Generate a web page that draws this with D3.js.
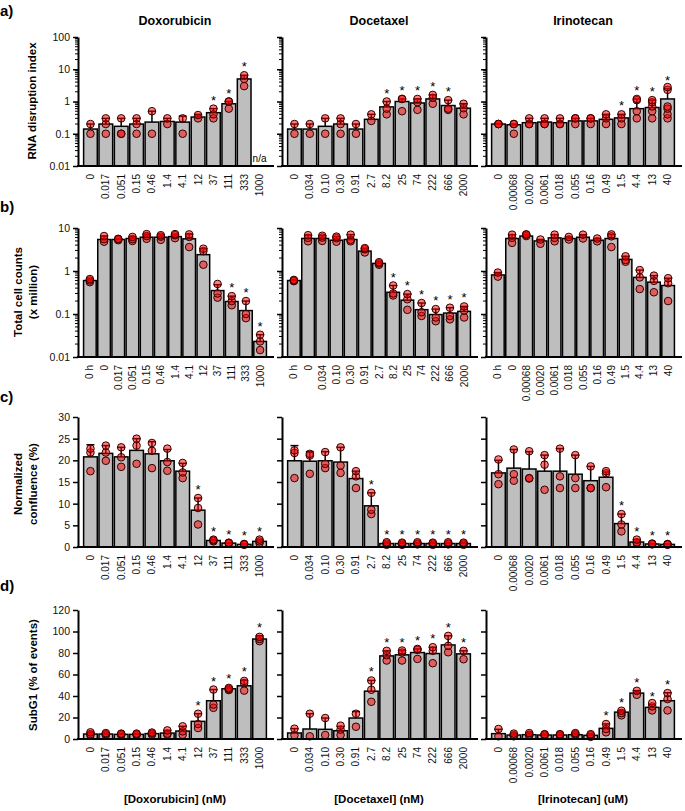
<!DOCTYPE html>
<html>
<head>
<meta charset="utf-8">
<script src="https://d3js.org/d3.v7.min.js"></script>
<style>
body { margin: 0; background: #fff; }
text { font-family: "Liberation Sans", Arial, sans-serif; }
</style>
</head>
<body>
<div id="chart"></div>
<script>
// dose labels for each drug
const doxDoses = ["0", "0.017", "0.051", "0.15", "0.46", "1.4", "4.1", "12", "37", "111", "333", "1000"];
const docDoses = ["0", "0.034", "0.10", "0.30", "0.91", "2.7", "8.2", "25", "74", "222", "666", "2000"];
const iriDoses = ["0", "0.00068", "0.0020", "0.0061", "0.018", "0.055", "0.16", "0.49", "1.5", "4.4", "13", "40"];

// a) RNA disruption index
const rnaDoxMean = [0.14, 0.2, 0.17, 0.2, 0.23, 0.24, 0.23, 0.33, 0.45, 0.85, 5, null];
const rnaDoxErr = [0.2, 0.3, 0.3, 0.3, 0.5, 0.3, 0.35, 0.4, 0.6, 1.0, 6.5, null];
const rnaDoxPts = [[0.1, 0.2], [0.1, 0.2, 0.3], [0.1, 0.1, 0.3], [0.1, 0.2, 0.3], [0.1, 0.5], [0.2, 0.3], [0.1, 0.3], [0.3, 0.38], [0.3, 0.4, 0.6], [0.6, 1.0, 1.0], [3, 5, 6.5], []];
const rnaDoxStars = [8, 9, 10];

const rnaDocMean = [0.14, 0.14, 0.17, 0.2, 0.14, 0.28, 0.68, 1.0, 0.9, 1.2, 0.75, 0.62];
const rnaDocErr = [0.2, 0.2, 0.3, 0.3, 0.2, 0.4, 1.0, 1.2, 1.2, 1.6, 1.1, 0.85];
const rnaDocPts = [[0.1, 0.2], [0.1, 0.2], [0.1, 0.3], [0.1, 0.2, 0.3], [0.1, 0.2], [0.25, 0.4], [0.4, 0.6, 1.0], [0.5, 1.2, 1.2], [0.55, 0.95, 1.2], [0.85, 1.3, 1.6], [0.55, 0.6, 1.1], [0.4, 0.62, 0.85]];
const rnaDocStars = [6, 7, 8, 9, 10];

const rnaIriMean = [0.2, 0.19, 0.22, 0.23, 0.22, 0.25, 0.25, 0.28, 0.31, 0.6, 0.65, 1.2];
const rnaIriErr = [0.21, 0.2, 0.3, 0.3, 0.3, 0.3, 0.3, 0.4, 0.4, 1.2, 1.1, 2.5];
const rnaIriPts = [[0.2, 0.2, 0.2], [0.1, 0.2, 0.2], [0.2, 0.2, 0.3], [0.2, 0.2, 0.3], [0.2, 0.2, 0.3], [0.2, 0.3, 0.3], [0.2, 0.3, 0.3], [0.2, 0.3, 0.4], [0.2, 0.3, 0.4], [0.3, 0.5, 1.1, 1.2], [0.3, 0.5, 0.7, 0.95, 1.1], [0.3, 0.4, 0.6, 0.7, 2.3, 2.8]];
const rnaIriStars = [8, 9, 10, 11];

// b) total cell counts (x million), first bar is "0 h"
const cntDoxMean = [0.6, 5.4, 5.4, 5.7, 6.1, 6.1, 6.3, 5.6, 2.4, 0.35, 0.195, 0.12, 0.023];
const cntDoxErr = [0.65, 6.5, 5.6, 6.3, 7.2, 6.9, 7.2, 7.2, 3.3, 0.48, 0.26, 0.2, 0.033];
const cntDoxPts = [[0.55, 0.6, 0.65], [4.8, 5.5, 6.5], [5.2, 5.5, 5.6], [5, 5.5, 6.2], [5.6, 6.5, 7.2], [5.3, 6.3, 6.8], [5.8, 6.8, 7.2], [3.6, 6.2, 7.1], [1.4, 2.9, 3.3], [0.24, 0.3, 0.5], [0.16, 0.2, 0.26], [0.08, 0.1, 0.2], [0.0145, 0.023, 0.033]];
const cntDoxStars = [10, 11, 12];

const cntDocMean = [0.6, 5.7, 5.7, 5.2, 5.4, 2.9, 1.5, 0.32, 0.21, 0.126, 0.097, 0.105, 0.115];
const cntDocErr = [0.63, 6.8, 6.6, 6.3, 7.0, 3.4, 1.6, 0.46, 0.29, 0.18, 0.13, 0.14, 0.15];
const cntDocPts = [[0.58, 0.6, 0.62], [4.9, 5.9, 6.8], [5.0, 6.0, 6.6], [4.8, 5.8, 6.3], [4.9, 5.3, 7.0], [2.7, 3.2, 3.4], [1.4, 1.5, 1.6], [0.27, 0.3, 0.46], [0.125, 0.22, 0.29], [0.09, 0.11, 0.18], [0.068, 0.083, 0.13], [0.075, 0.09, 0.14], [0.083, 0.12, 0.15]];
const cntDocStars = [7, 8, 9, 10, 11, 12];

const cntIriMean = [0.81, 5.7, 6.5, 5.0, 5.9, 5.7, 6.1, 5.2, 5.7, 1.86, 0.71, 0.55, 0.46];
const cntIriErr = [0.92, 7.0, 7.1, 5.4, 7.0, 6.2, 7.0, 5.7, 7.1, 2.2, 1.05, 0.78, 0.68];
const cntIriPts = [[0.74, 0.92], [4.5, 5.9, 7], [6.5, 7.0, 7.1], [4.3, 5.4], [4.9, 5.9, 7], [5.4, 6.2], [5.7, 7], [4.9, 5.7], [3.6, 6.4, 7.1], [1.64, 1.8, 2.2], [0.38, 0.71, 1.05], [0.32, 0.59, 0.78], [0.2, 0.52, 0.68]];
const cntIriStars = [];

// c) normalized confluence (%)
const cnfDoxMean = [20.8, 21.6, 20.8, 22.3, 21.5, 19.9, 17.5, 8.5, 1.5, 0.9, 0.6, 1.3];
const cnfDoxErr = [23.6, 23.4, 23, 25, 24.3, 22.5, 19.3, 11.3, 1.7, 1.0, 0.7, 1.7];
const cnfDoxPts = [[17.5, 21.8, 22.7], [19.9, 21.8, 23.4], [18.5, 20.7, 23], [19.2, 23.4, 25], [18.2, 22.2, 24], [17.6, 19.6, 22.7], [15.9, 17.2, 19.4], [5.2, 9, 11.3], [1.3, 1.5, 1.7], [0.8, 0.9, 1.0], [0.5, 0.6, 0.7], [0.9, 1.3, 1.7]];
const cnfDoxStars = [7, 8, 9, 10, 11];

const cnfDocMean = [19.9, 19.8, 19.9, 19.6, 15.8, 9.5, 0.8, 0.8, 0.8, 0.8, 0.8, 0.8];
const cnfDocErr = [23.4, 22, 22, 23, 17.5, 12.5, 1, 1, 1, 1, 1, 1];
const cnfDocPts = [[15.9, 21.7, 22.3], [16.9, 21.1, 21.5], [18.2, 19.2, 21.9], [17.1, 18.8, 23], [13.6, 16.3, 17.5], [7.6, 8.6, 12.5], [0.5, 0.8, 1.1], [0.5, 0.8, 1.0], [0.6, 0.8, 1.1], [0.5, 0.8, 1.0], [0.6, 0.8, 1.1], [0.5, 0.8, 1.0]];
const cnfDocStars = [5, 6, 7, 8, 9, 10, 11];

const cnfIriMean = [17.1, 18.2, 18, 17.5, 17.5, 16.8, 15.3, 16.1, 5.4, 1.15, 0.7, 0.6];
const cnfIriErr = [20, 22.5, 22, 21.2, 22.7, 21.2, 18.6, 17.3, 7.6, 1.7, 0.8, 0.7];
const cnfIriPts = [[14.5, 16.8, 20.2], [15.3, 16.8, 22.5], [15.8, 15.9, 22.1], [13.2, 19, 21.2], [13.6, 16.3, 22.7], [13.6, 15.9, 21.2], [13.6, 13.6, 18.6], [13.8, 17, 17.5], [3.6, 5.2, 7.6], [0.9, 1.1, 1.7], [0.6, 0.7, 0.8], [0.5, 0.6, 0.7]];
const cnfIriStars = [8, 9, 10, 11];

// d) SubG1 (% of events)
const sgDoxMean = [4.6, 4.6, 4.3, 4.3, 5, 5.5, 7.4, 16.4, 35.6, 46.7, 49.5, 93];
const sgDoxErr = [6.2, 5.5, 5, 5, 6, 8, 11.8, 23.5, 46, 48, 54.5, 96];
const sgDoxPts = [[3.4, 4.5, 6.2], [3.5, 4.5, 5.5], [3.5, 4.5, 5], [3.5, 4.5, 5], [4, 5, 6], [4, 5, 8], [4, 7.1, 11.8], [10.2, 13.9, 23.5], [29, 32, 46], [45.5, 46.5, 47.5], [45, 52, 54], [91, 93, 95]];
const sgDoxStars = [7, 8, 9, 10, 11];

const sgDocMean = [5.6, 9.3, 9, 7.7, 19.5, 44.5, 77.3, 78.3, 80.4, 79.5, 87.5, 79.2];
const sgDocErr = [9.6, 23.5, 19.5, 11.7, 25.5, 54.5, 82, 82.3, 83.8, 85.4, 96, 82];
const sgDocPts = [[3.4, 9.6], [2.5, 23.5], [3.7, 19.5], [3.7, 8.7, 12.4], [11.4, 23.5], [34.6, 45.8, 54.4], [73, 78, 82], [73, 80.4, 82.3], [74.5, 82.9, 83.8], [70.5, 82, 85.4], [80.7, 86.6, 95.9], [74.2, 82]];
const sgDocStars = [5, 6, 7, 8, 9, 10, 11];

const sgIriMean = [5, 3.7, 4, 3.7, 3.7, 4, 3.4, 9.9, 25, 42.7, 29.4, 35.6];
const sgIriErr = [9, 5, 5.5, 4.5, 4.5, 5.5, 4.5, 14, 26.5, 45, 32, 43];
const sgIriPts = [[2.5, 9.3], [2.5, 3.5, 5], [3, 4, 5.5], [3, 4, 4.5], [3, 4, 4.5], [3.5, 4.5, 5.5], [2, 3.5, 4.5], [6.2, 9.3, 13.9], [22, 24.1, 26.3], [41.1, 44.8], [26.6, 30.3, 33.4], [26.6, 37.1, 42.7]];
const sgIriStars = [7, 8, 9, 10, 11];

// axis ticks
const logTicksA = [0.01, 0.1, 1, 10, 100];
const logTicksB = [0.01, 0.1, 1, 10];
const cnfTicks = [0, 5, 10, 15, 20, 25, 30];
const sgTicks = [0, 20, 40, 60, 80, 100, 120];

const drugTitles = ["Doxorubicin", "Docetaxel", "Irinotecan"];
const xTitles = ["[Doxorubicin] (nM)", "[Docetaxel] (nM)", "[Irinotecan] (uM)"];

const W = 685, H = 811;
const colX = [78, 282, 486];

const svg = d3.select("#chart").append("svg")
    .attr("width", W).attr("height", H);

// one panel = bars + error bars + replicate points
function drawPanel(p) {
    const g = svg.append("g");
    const x = d3.scaleBand().domain(p.doses)
        .range([p.x0 + 5, p.x0 + 189])
        .paddingInner(0.11).paddingOuter(0.04);
    const y = (p.log ? d3.scaleLog() : d3.scaleLinear())
        .domain(p.domain).range([p.bottom, p.top]);
    const base = y(p.domain[0]);
    const cx = i => x(p.doses[i]) + x.bandwidth() / 2;

    // indices with a bar
    const idx = d3.range(p.mean.length).filter(i => p.mean[i] != null);

    // bars
    g.selectAll(null).data(idx)
        .enter().append("rect")
        .attr("x", i => x(p.doses[i]))
        .attr("y", i => y(p.mean[i]))
        .attr("width", x.bandwidth())
        .attr("height", i => base - y(p.mean[i]))
        .attr("fill", "#bebebe")
        .attr("stroke", "#000")
        .attr("stroke-width", 1.5);

    // error bars (mean + sd)
    idx.forEach(i => {
        g.append("line")
            .attr("x1", cx(i)).attr("x2", cx(i))
            .attr("y1", y(p.mean[i])).attr("y2", y(p.err[i]))
            .attr("stroke", "#000").attr("stroke-width", 1.5);
        g.append("line")
            .attr("x1", cx(i) - 4).attr("x2", cx(i) + 4)
            .attr("y1", y(p.err[i])).attr("y2", y(p.err[i]))
            .attr("stroke", "#000").attr("stroke-width", 1.5);
    });

    // replicate points
    p.pts.forEach((arr, i) => {
        g.selectAll(null).data(arr).enter().append("circle")
            .attr("cx", cx(i))
            .attr("cy", d => y(d))
            .attr("r", 3.8)
            .attr("fill", "rgb(255,0,0)")
            .attr("fill-opacity", 0.5)
            .attr("stroke", "#300")
            .attr("stroke-width", 1);
    });

    // significance stars
    p.stars.forEach(i => {
        g.append("text")
            .attr("x", cx(i)).attr("y", y(p.err[i]) - 4)
            .attr("text-anchor", "middle")
            .attr("font-size", 13)
            .text("*");
    });

    // n/a marker for missing bars
    p.mean.forEach((m, i) => {
        if (m != null) return;
        g.append("text")
            .attr("x", cx(i)).attr("y", p.bottom - 4)
            .attr("text-anchor", "middle").attr("font-size", 10)
            .text("n/a");
    });

    // y axis
    const yAxis = d3.axisLeft(y).tickValues(p.ticks)
        .tickSize(5).tickSizeOuter(0).tickPadding(3)
        .tickFormat(p.showLabels ? (d => String(d)) : "");
    const ya = g.append("g")
        .attr("transform", "translate(" + p.x0 + ",0)")
        .call(yAxis);
    ya.select(".domain").attr("stroke-width", 2);
    ya.selectAll(".tick line").attr("stroke-width", 1.5);
    ya.selectAll(".tick text").attr("font-size", 10.5).attr("fill", "#111")
        .style("font-family", "'Liberation Sans', Arial, sans-serif");

    // minor ticks on log axes
    if (p.log) {
        const minor = [];
        p.ticks.slice(0, -1).forEach(t => {
            for (let k = 2; k <= 9; k++) minor.push(t * k);
        });
        g.selectAll(null).data(minor).enter().append("line")
            .attr("x1", p.x0 - 3).attr("x2", p.x0)
            .attr("y1", d => y(d)).attr("y2", d => y(d))
            .attr("stroke", "#000").attr("stroke-width", 1);
    }

    // x baseline
    g.append("line")
        .attr("x1", p.x0 - 1).attr("x2", p.x0 + 196)
        .attr("y1", base).attr("y2", base)
        .attr("stroke", "#000").attr("stroke-width", 2);

    // rotated dose labels
    g.selectAll(null).data(p.doses).enter().append("text")
        .attr("transform", d => "translate(" + (x(d) + x.bandwidth() / 2) + "," + (base + 8) + ") rotate(-90)")
        .attr("dy", "0.35em")
        .attr("text-anchor", "end")
        .attr("font-size", 10)
        .attr("fill", "#111")
        .text(d => d);

    return x;
}

// row definitions
const rows = [
    {top: 37, bottom: 166, log: true, domain: [0.01, 100], ticks: logTicksA, zeroH: false,
        data: [[rnaDoxMean, rnaDoxErr, rnaDoxPts, rnaDoxStars], [rnaDocMean, rnaDocErr, rnaDocPts, rnaDocStars], [rnaIriMean, rnaIriErr, rnaIriPts, rnaIriStars]]},
    {top: 228, bottom: 357, log: true, domain: [0.01, 10], ticks: logTicksB, zeroH: true,
        data: [[cntDoxMean, cntDoxErr, cntDoxPts, cntDoxStars], [cntDocMean, cntDocErr, cntDocPts, cntDocStars], [cntIriMean, cntIriErr, cntIriPts, cntIriStars]]},
    {top: 417, bottom: 547, log: false, domain: [0, 30], ticks: cnfTicks, zeroH: false,
        data: [[cnfDoxMean, cnfDoxErr, cnfDoxPts, cnfDoxStars], [cnfDocMean, cnfDocErr, cnfDocPts, cnfDocStars], [cnfIriMean, cnfIriErr, cnfIriPts, cnfIriStars]]},
    {top: 610, bottom: 739, log: false, domain: [0, 120], ticks: sgTicks, zeroH: false,
        data: [[sgDoxMean, sgDoxErr, sgDoxPts, sgDoxStars], [sgDocMean, sgDocErr, sgDocPts, sgDocStars], [sgIriMean, sgIriErr, sgIriPts, sgIriStars]]}
];
const doseSets = [doxDoses, docDoses, iriDoses];
const centers = [];

rows.forEach((r, ri) => {
    r.data.forEach((d, ci) => {
        const doses = r.zeroH ? ["0 h"].concat(doseSets[ci]) : doseSets[ci];
        const x = drawPanel({
            x0: colX[ci], top: r.top, bottom: r.bottom, log: r.log,
            domain: r.domain, ticks: r.ticks, showLabels: ci === 0,
            doses: doses, mean: d[0], err: d[1], pts: d[2], stars: d[3]
        });
        if (ri === 0) centers.push((x.range()[0] + x.range()[1]) / 2);
    });
});

// drug titles on top
drugTitles.forEach((t, i) => {
    svg.append("text").attr("x", centers[i]).attr("y", 25)
        .attr("text-anchor", "middle").attr("font-size", 12.5).attr("font-weight", "bold")
        .text(t);
});

// x titles under the last row
xTitles.forEach((t, i) => {
    svg.append("text").attr("x", centers[i]).attr("y", 803)
        .attr("text-anchor", "middle").attr("font-size", 11.5).attr("font-weight", "bold")
        .text(t);
});

// panel letters
const letters = [["a)", 16], ["b)", 212], ["c)", 402], ["d)", 591]];
letters.forEach(l => {
    svg.append("text").attr("x", 0).attr("y", l[1])
        .attr("font-size", 15).attr("font-weight", "bold").text(l[0]);
});

// y titles
const yTitles = [
    {lines: ["RNA disruption index"], xs: [32], yc: 101},
    {lines: ["Total cell counts", "(x million)"], xs: [18, 33], yc: 292},
    {lines: ["Normalized", "confluence (%)"], xs: [18, 33], yc: 484},
    {lines: ["SubG1 (% of events)"], xs: [33], yc: 675}
];
yTitles.forEach(t => {
    t.lines.forEach((s, i) => {
        svg.append("text")
            .attr("transform", "translate(" + t.xs[i] + "," + t.yc + ") rotate(-90)")
            .attr("dy", "0.35em")
            .attr("text-anchor", "middle").attr("font-size", 11.5).attr("font-weight", "bold")
            .text(s);
    });
});
</script>
</body>
</html>
